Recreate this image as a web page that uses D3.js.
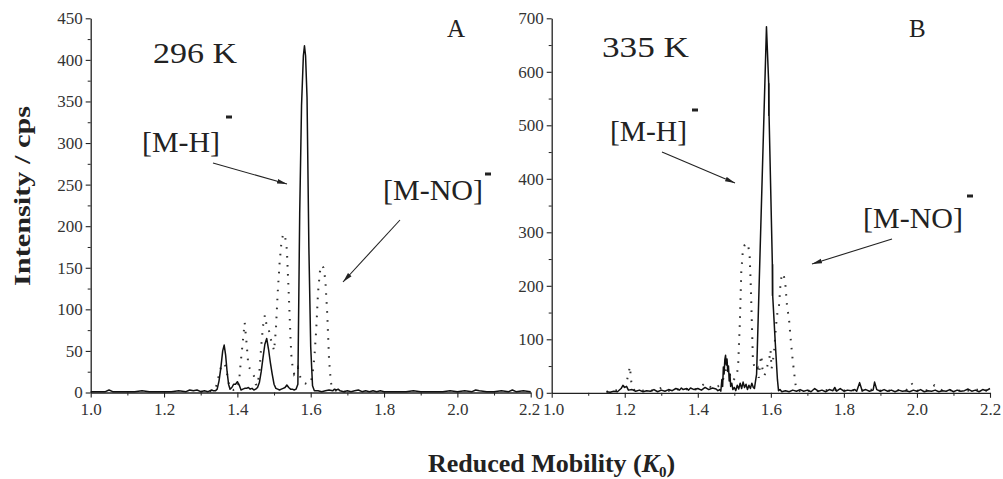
<!DOCTYPE html>
<html>
<head>
<meta charset="utf-8">
<script src="https://cdn.jsdelivr.net/npm/d3@7"></script>
<style>
  html, body { margin: 0; padding: 0; background: #fff; }
  svg { display: block; }
  svg text { font-family: 'Liberation Serif', 'Times New Roman', serif !important; fill: #222; }
</style>
</head>
<body>
<svg id="chart" width="1003" height="479"></svg>
<script>
// ---- Panel A (296 K): reduced mobility K0 vs. intensity (cps) ----
const solidA_K = [1.00,1.02,1.04,1.05,1.06,1.08,1.10,1.12,1.14,1.16,1.18,1.20,1.22,1.24,1.26,1.27,1.28,1.29,1.30,1.31,1.32,1.33,1.335,
  1.340,1.345,1.350,1.355,1.360,1.364,1.368,1.372,1.376,1.380,1.385,1.390,1.395,1.400,1.405,1.410,1.415,1.420,1.425,1.430,1.435,1.440,1.445,1.450,1.455,
  1.460,1.465,1.470,1.475,1.480,1.485,1.490,1.495,1.500,1.505,1.510,1.515,1.520,1.525,1.530,1.535,1.540,1.545,1.550,1.555,1.560,1.565,
  1.570,1.575,1.580,1.583,1.586,1.590,1.595,1.600,1.605,1.610,1.620,1.630,1.640,1.650,1.660,1.665,1.670,1.675,1.680,1.690,1.700,1.710,1.720,1.730,1.740,
  1.750,1.760,1.770,1.780,1.790,1.800,1.820,1.840,1.860,1.880,1.900,1.920,1.940,1.960,1.980,2.000,2.020,2.040,2.050,2.060,2.080,2.100,2.120,2.140,2.150,2.160,2.180,2.200];
const solidA_I = [1,1,1,3,1,1,1,1,2,1,1,1,1,2,1,3,2,3,1,2,1,3,2,
  2,4,14,30,50,57,45,25,10,4,6,10,10,13,9,3,4,5,5,6,4,5,3,4,6,
  12,25,42,58,65,52,36,22,10,5,4,3,4,5,6,9,6,4,4,3,4,10,
  215,345,405,417,405,355,175,55,8,2,2,1,2,3,2,4,3,4,2,1,2,1,2,3,1,
  2,1,2,1,2,1,1,1,1,2,1,1,1,1,2,1,2,1,3,2,1,1,2,1,3,1,2,1];

const dotA_K = [1.300,1.320,1.335,1.340,1.345,1.350,1.355,1.360,1.365,1.370,1.375,1.380,1.390,1.400,1.405,1.410,1.415,1.420,1.425,1.430,1.435,1.440,1.445,
  1.450,1.455,1.460,1.465,1.470,1.475,1.480,1.485,1.490,1.495,1.500,1.505,1.510,1.515,1.520,1.525,1.530,1.535,1.540,1.545,1.548,1.555,1.560,1.565,
  1.570,1.580,1.590,1.600,1.605,1.610,1.615,1.620,1.625,1.630,1.635,1.640,1.645,1.650,1.655,1.660,1.670,1.680,1.700];
const dotA_I = [1,1,2,4,12,22,30,34,35,28,14,5,3,4,15,40,62,84,60,32,28,25,20,
  10,8,25,55,80,93,80,78,65,60,50,75,120,155,180,191,188,172,120,65,38,22,25,30,
  20,12,10,12,22,42,75,120,145,153,150,135,95,40,12,4,2,1,1];

// ---- Panel B (335 K) ----
const solidB_K = [1.15,1.16,1.17,1.18,1.19,1.195,1.20,1.205,1.21,1.22,1.23,1.24,1.25,1.26,1.27,1.28,1.29,1.30,1.31,1.32,1.33,1.34,1.35,1.355,1.36,1.37,1.375,1.38,1.39,1.40,1.41,1.42,1.43,1.44,1.45,1.455,
  1.460,1.463,1.466,1.468,1.470,1.472,1.474,1.476,1.478,1.480,1.482,1.484,1.486,1.488,1.490,1.493,1.496,1.500,1.504,1.508,1.512,1.516,1.520,1.524,1.528,1.532,1.536,1.540,1.544,1.548,1.552,1.555,1.558,1.561,
  1.588,1.5940,1.5944,1.5948,1.5952,1.6040,1.6044,1.6048,1.6052,1.612,1.618,1.621,1.625,
  1.63,1.64,1.65,1.66,1.67,1.68,1.69,1.70,1.71,1.72,1.73,1.74,1.75,1.76,1.77,1.775,1.78,1.79,1.80,1.81,1.82,1.83,1.835,1.843,1.85,1.86,1.87,1.88,1.884,1.89,
  1.90,1.91,1.92,1.93,1.94,1.95,1.96,1.97,1.98,1.99,2.00,2.01,2.02,2.03,2.04,2.05,2.06,2.07,2.08,2.09,2.10,2.11,2.12,2.13,2.14,2.15,2.16,2.17,2.18,2.19,2.20];
const solidB_I = [2,1,3,2,8,14,10,12,5,6,3,5,2,4,3,6,2,5,3,6,4,8,5,9,6,8,5,9,6,8,5,10,6,9,7,4,
  6,3,25,12,48,35,62,70,52,63,40,50,22,35,12,18,6,10,4,14,7,18,8,20,10,16,6,14,8,18,10,8,22,35,
  684,580,518,578,516,244,182,240,180,95,25,4,6,
  2,4,2,5,3,6,3,5,2,8,3,5,2,6,4,10,3,8,3,5,4,6,3,19,4,6,3,5,20,6,
  3,6,3,5,2,5,3,4,2,5,3,6,2,4,3,5,2,4,3,6,2,5,3,4,7,3,5,2,6,4,8];

const dotB_K = [1.15,1.17,1.19,1.20,1.205,1.210,1.214,1.218,1.225,1.24,1.26,1.28,1.30,1.32,1.34,1.36,1.38,1.40,1.42,1.44,1.455,1.465,1.472,1.478,1.485,1.490,1.495,
  1.500,1.505,1.510,1.515,1.519,1.523,1.528,1.533,1.538,1.542,1.545,1.548,1.551,1.556,1.560,1.564,1.567,1.571,1.574,1.577,1.582,1.587,1.592,1.596,1.599,
  1.602,1.606,1.610,1.614,1.618,1.622,1.626,1.630,1.635,1.640,1.644,1.650,1.655,1.660,1.665,1.669,1.675,1.70,1.73,1.76,1.79,1.82,1.85,1.88,1.91,1.94,1.97,1.985,
  2.00,2.03,2.048,2.07,2.10,2.13,2.16,2.20];
const dotB_I = [2,4,6,15,20,35,49,20,6,3,5,4,9,4,6,8,5,7,18,8,12,18,30,45,40,30,22,
  26,32,45,130,225,262,276,280,276,255,200,130,60,45,42,46,28,58,70,45,32,40,55,65,80,
  45,62,85,125,150,160,200,222,222,200,165,135,95,60,30,8,3,4,3,6,4,5,4,6,3,5,4,18,
  4,5,14,4,5,3,6,4];

// Axis ticks
const ticksA_y = [0,50,100,150,200,250,300,350,400,450];
const ticksB_y = [0,100,200,300,400,500,600,700];
const ticksX = [1.0,1.2,1.4,1.6,1.8,2.0,2.2];
const minorX = [1.1,1.3,1.5,1.7,1.9,2.1];

const svg = d3.select("#chart");
const ink = "#222";
const serif = "'Liberation Serif', 'Times New Roman', serif";

const panels = [
  { id: "A", xr: [90.7, 530.7], yr: [392.5, 18.3], ymax: 450, yt: ticksA_y, ym: 25,
    solid: [solidA_K, solidA_I], dot: [dotA_K, dotA_I], edgeShift: [2.2, -1.5] },
  { id: "B", xr: [551.7, 990], yr: [392.8, 18.3], ymax: 700, yt: ticksB_y, ym: 50,
    solid: [solidB_K, solidB_I], dot: [dotB_K, dotB_I], edgeShift: [1.0, 1.5] }
];

panels.forEach(p => {
  const x = d3.scaleLinear().domain([1.0, 2.2]).range(p.xr);
  const y = d3.scaleLinear().domain([0, p.ymax]).range(p.yr);
  const g = svg.append("g");

  // minor ticks
  const minorY = p.yt.slice(0, -1).map(v => v + p.ym);
  g.append("g").attr("transform", `translate(${p.xr[0]},0)`)
    .call(d3.axisLeft(y).tickValues(minorY).tickSize(3).tickFormat(""))
    .call(a => a.select(".domain").remove())
    .selectAll("line").attr("stroke", ink).attr("stroke-width", 1);
  g.append("g").attr("transform", `translate(0,${p.yr[0]})`)
    .call(d3.axisBottom(x).tickValues(minorX).tickSize(3).tickFormat(""))
    .call(a => a.select(".domain").remove())
    .selectAll("line").attr("stroke", ink).attr("stroke-width", 1);

  // major axes
  const ay = g.append("g").attr("transform", `translate(${p.xr[0]},0)`)
    .call(d3.axisLeft(y).tickValues(p.yt).tickSize(5).tickSizeOuter(0).tickPadding(3).tickFormat(d3.format("d")));
  const ax = g.append("g").attr("transform", `translate(0,${p.yr[0]})`)
    .call(d3.axisBottom(x).tickValues(ticksX).tickSize(5).tickSizeOuter(0).tickPadding(5).tickFormat(d3.format(".1f")));
  [ay, ax].forEach(a => {
    a.attr("font-family", null);
    a.select(".domain").attr("stroke", ink).attr("stroke-width", 1.3);
    a.selectAll(".tick line").attr("stroke", ink).attr("stroke-width", 1.1);
    a.selectAll(".tick text").style("font-family", serif)
      .attr("font-size", 17).style("fill", "#333");
  });
  // the shared 2.2 | 1.0 labels sit edge to edge between the panels
  ax.selectAll(".tick").filter(d => Math.abs(d - p.edgeShift[0]) < 1e-9)
    .select("text").attr("dx", p.edgeShift[1]);

  const line = d3.line().x(d => x(d[0])).y(d => y(d[1]));
  const dotPts = p.dot[0].map((k, i) => [k, p.dot[1][i]]);
  const solidPts = p.solid[0].map((k, i) => [k, p.solid[1][i]]);

  // dotted series
  g.append("path").attr("d", line(dotPts)).attr("fill", "none")
    .attr("stroke", "#333").attr("stroke-width", 2)
    .attr("stroke-dasharray", "1.6 7.4");
  // solid series
  g.append("path").attr("d", line(solidPts)).attr("fill", "none")
    .attr("stroke", "#111").attr("stroke-width", 1.5).attr("stroke-linejoin", "round");
});

// arrow head
svg.append("defs").append("marker")
  .attr("id", "head").attr("viewBox", "0 0 10 6").attr("refX", 10).attr("refY", 3)
  .attr("markerWidth", 10).attr("markerHeight", 6).attr("markerUnits", "userSpaceOnUse")
  .attr("orient", "auto")
  .append("path").attr("d", "M0,0.6 L10,3 L0,5.4 Z").attr("fill", ink);

// annotation texts
const notes = [
  { t: "296 K", x: 153, y: 63, s: 29, len: 84 },
  { t: "A", x: 447, y: 37, s: 25 },
  { t: "335 K", x: 602, y: 57, s: 30, len: 87 },
  { t: "B", x: 909, y: 37, s: 25 },
  { t: "[M-H]", x: 142, y: 152, s: 30, len: 78 },
  { t: "[M-NO]", x: 383, y: 200, s: 30, len: 100 },
  { t: "[M-H]", x: 610, y: 141, s: 30, len: 77 },
  { t: "[M-NO]", x: 863, y: 228, s: 30, len: 100 }
];
notes.forEach(n => {
  const t = svg.append("text").attr("x", n.x).attr("y", n.y).attr("font-size", n.s)
    .style("font-family", serif).text(n.t);
  if (n.len) t.attr("textLength", n.len).attr("lengthAdjust", "spacingAndGlyphs");
});

// charge superscripts
const charges = [[226, 117], [485, 174], [692, 110], [967, 196]];
charges.forEach(c => {
  svg.append("rect").attr("x", c[0]).attr("y", c[1] - 1.5).attr("width", 6).attr("height", 3).attr("fill", ink);
});

// arrows
const arrows = [
  [213, 163, 287, 184],
  [400, 220, 343, 282],
  [662, 152, 735, 183],
  [892, 239, 812, 264]
];
arrows.forEach(a => {
  svg.append("line").attr("x1", a[0]).attr("y1", a[1]).attr("x2", a[2]).attr("y2", a[3])
    .attr("stroke", ink).attr("stroke-width", 1.1).attr("marker-end", "url(#head)");
});

// axis titles
svg.append("text")
  .attr("transform", "translate(30,196) rotate(-90)")
  .attr("text-anchor", "middle").attr("font-size", 24).attr("font-weight", "bold")
  .style("font-family", serif)
  .attr("textLength", 180).attr("lengthAdjust", "spacingAndGlyphs")
  .text("Intensity / cps");

const xt = svg.append("text").attr("x", 428).attr("y", 472)
  .attr("font-size", 26).attr("font-weight", "bold").style("font-family", serif);
xt.append("tspan").text("Reduced Mobility (");
xt.append("tspan").attr("font-style", "italic").text("K");
xt.append("tspan").attr("font-size", 15).attr("dy", 5).text("0");
xt.append("tspan").attr("dy", -5).text(")");
</script>
</body>
</html>
